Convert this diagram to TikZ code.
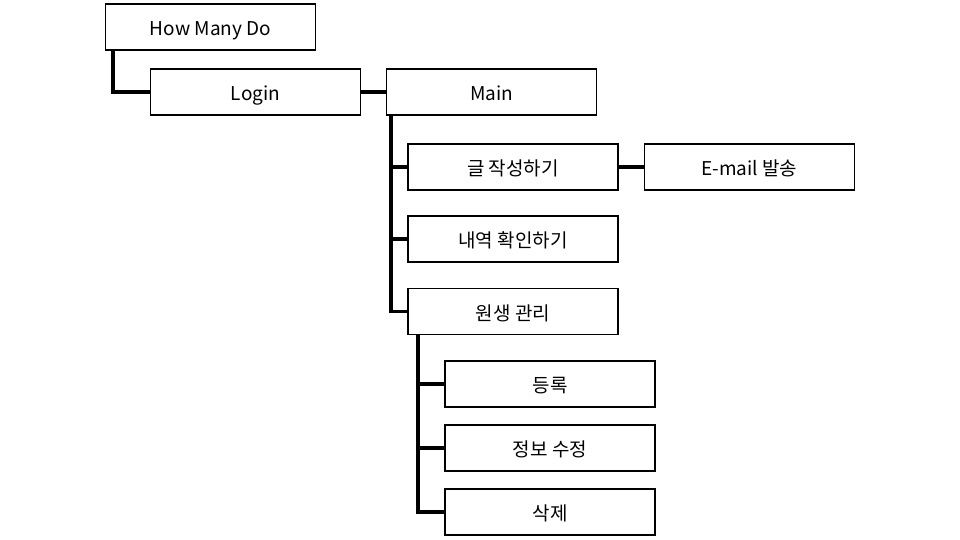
\documentclass[tikz,border=0pt]{standalone}
\usepackage{fontspec}
\setmainfont{Noto Sans CJK KR}
\newcommand{\boxtext}[1]{\raisebox{-8.5pt}[0pt][0pt]{#1}}
\begin{document}
\begin{tikzpicture}[x=1pt,y=-1pt,
  box/.style={draw=black,line width=1.6pt,minimum width=210pt,minimum height=46pt,inner sep=0pt,font=\fontsize{19}{22}\selectfont},
  link/.style={line width=3.2pt}]
\useasboundingbox[fill=white] (0,0) rectangle (960,540);
\node[box] (hmd) at (210.5,27) {\boxtext{How Many Do}};
\node[box] (login) at (255.5,92) {\boxtext{Login}};
\node[box] (main) at (491.5,92) {\boxtext{Main}};
\node[box] (write) at (513,167) {\boxtext{글 작성하기}};
\node[box] (email) at (749.5,167) {\boxtext{E-mail 발송}};
\node[box] (hist) at (513,239) {\boxtext{내역 확인하기}};
\node[box] (mgmt) at (513,311.5) {\boxtext{원생 관리}};
\node[box] (reg) at (550,384) {\boxtext{등록}};
\node[box] (edit) at (550,448) {\boxtext{정보 수정}};
\node[box] (del) at (550,512) {\boxtext{삭제}};
\coordinate (c1) at (113,0);
\coordinate (c2) at (391,0);
\coordinate (c3) at (418,0);
\draw[link] (hmd.south -| c1) |- (login.west);
\draw[link] (login.east) -- (main.west);
\draw[link] (main.south -| c2) |- (mgmt.west);
\draw[link] (write.west -| c2) -- (write.west);
\draw[link] (hist.west -| c2) -- (hist.west);
\draw[link] (write.east) -- (email.west);
\draw[link] (mgmt.south -| c3) |- (del.west);
\draw[link] (reg.west -| c3) -- (reg.west);
\draw[link] (edit.west -| c3) -- (edit.west);
\end{tikzpicture}
\end{document}
